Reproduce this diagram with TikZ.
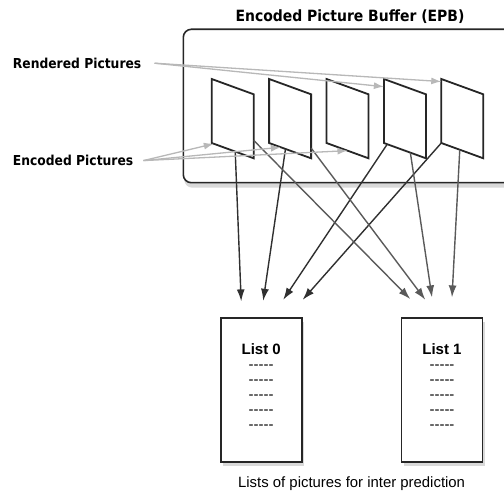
\documentclass[tikz,border=0pt]{standalone}
\usepackage{fontspec}
\setmainfont{Liberation Sans}
\newfontfamily\tagfont[FakeStretch=0.9]{DejaVu Sans}
\usepackage{tikz}
\usetikzlibrary{arrows.meta, positioning, shadows, calc}
\definecolor{framegray}{HTML}{262626}
\definecolor{hintgray}{HTML}{B8B8B8}
\definecolor{refdark}{HTML}{303030}
\definecolor{refmid}{HTML}{5A5A5A}
\newcommand{\dashrow}{-{}-{}-{}-{}-}
\tikzstyle{title} = [inner sep=0pt, font=\tagfont\bfseries\fontsize{15.5}{18}\selectfont]
\tikzstyle{tag} = [inner sep=0pt, font=\tagfont\bfseries\fontsize{13.7}{16}\selectfont]
\tikzstyle{epbbox} = [draw=framegray, line width=1.6pt, fill=white, rounded corners=8pt, drop shadow={shadow xshift=1pt, shadow yshift=-5pt, opacity=0.3}]
\tikzstyle{picframe} = [draw=framegray, line width=1.8pt, fill=white]
\tikzstyle{listbox} = [rectangle, draw=framegray, line width=1.8pt, fill=white, minimum width=81pt, minimum height=144pt, drop shadow={shadow xshift=2pt, shadow yshift=-4pt, opacity=0.3}]
\tikzstyle{listtext} = [inner sep=0pt, align=center, font=\fontsize{15}{15}\selectfont]
\tikzstyle{caption} = [inner sep=0pt, font=\fontsize{14.9}{17}\selectfont]
\tikzstyle{hint} = [draw=hintgray, line width=1.3pt, -{Latex[length=10pt,width=7pt]}]
\tikzstyle{toward0} = [draw=refdark, line width=1.4pt, -{Latex[length=12pt,width=8pt]}]
\tikzstyle{toward1} = [toward0, draw=refmid]

\begin{document}
\begin{tikzpicture}[x=1pt, y=-1pt, node distance=98pt]
    \clip (0,0) rectangle (504,494);

    % buffer
    \node [title, anchor=base] (epbtitle) at (350,21.7) {Encoded Picture Buffer (EPB)};
    \draw [epbbox] (183.3,29.3) rectangle (540,182.7);

    \foreach \i in {1,...,5} {
        \coordinate (pic\i-tl) at ({211.7+57.4*(\i-1)},79);
        \coordinate (pic\i-tr) at ($(pic\i-tl)+(42,15.3)$);
        \coordinate (pic\i-br) at ($(pic\i-tr)+(0,64)$);
        \coordinate (pic\i-bl) at ($(pic\i-tl)+(0,64)$);
        \draw [picframe] (pic\i-tl) -- (pic\i-tr) -- (pic\i-br) -- (pic\i-bl) -- cycle;
    }

    \node [tag, anchor=base west] (rendered) at (12.7,68.3) {Rendered Pictures};
    \node [tag, anchor=base west] (encoded) at (12.7,165.7) {Encoded Pictures};

    % lists
    \node [listbox] (list0) at (261.2,390.3) {};
    \node [listbox, right=of list0] (list1) {};
    \node [listtext, below=25.7pt of list0.north] (list0-text) {\textbf{List 0}\\\dashrow\\\dashrow\\\dashrow\\\dashrow\\\dashrow};
    \node [listtext, below=25.7pt of list1.north] (list1-text) {\textbf{List 1}\\\dashrow\\\dashrow\\\dashrow\\\dashrow\\\dashrow};
    \coordinate (lists-mid) at ($(list0.south)!0.5!(list1.south)$);
    \node [caption, below=13pt of lists-mid] (caption) {Lists of pictures for inter prediction};

    \coordinate (l0-a) at ($(list0.north)+(-20,-16)$);
    \coordinate (l0-b) at ($(list0.north)+(2,-16.6)$);
    \coordinate (l0-c) at ($(list0.north)+(22,-17.6)$);
    \coordinate (l0-d) at ($(list0.north)+(41.5,-17.6)$);
    \coordinate (l1-a) at ($(list1.north)+(-31.7,-18.3)$);
    \coordinate (l1-b) at ($(list1.north)+(-16.7,-17.6)$);
    \coordinate (l1-c) at ($(list1.north)+(-10,-20)$);
    \coordinate (l1-d) at ($(list1.north)+(10,-20)$);

    \path [toward0] ($(pic1-bl)!0.56!(pic1-br)$) -- (l0-a);
    \path [toward0] ($(pic2-bl)!0.39!(pic2-br)$) -- (l0-b);
    \path [toward0] ($(pic4-bl)!0.08!(pic4-br)$) -- (l0-c);
    \path [toward0] (pic5-bl) -- (l0-d);
    \path [toward1] ($(pic1-tr)!0.72!(pic1-br)$) -- (l1-a);
    \path [toward1] ($(pic2-tr)!0.84!(pic2-br)$) -- (l1-b);
    \path [toward1] ($(pic4-bl)!0.63!(pic4-br)$) -- (l1-c);
    \path [toward1] ($(pic5-bl)!0.44!(pic5-br)$) -- (l1-d);

    % labels
    \coordinate [right=13pt of rendered.east] (rendered-out);
    \coordinate [right=10pt of encoded.east] (encoded-out);
    \path [hint] (rendered-out) -- ($(pic4-tl)!0.12!(pic4-bl)$);
    \path [hint] (rendered-out) -- ($(pic5-tl)!0.04!(pic5-bl)$);
    \path [hint] (encoded-out) -- ($(pic1-bl)!0.05!(pic1-br)$);
    \path [hint] (encoded-out) -- ($(pic2-bl)!0.28!(pic2-br)$);
    \path [hint] (encoded-out) -- ($(pic3-bl)!0.5!(pic3-br)$);
\end{tikzpicture}
\end{document}
